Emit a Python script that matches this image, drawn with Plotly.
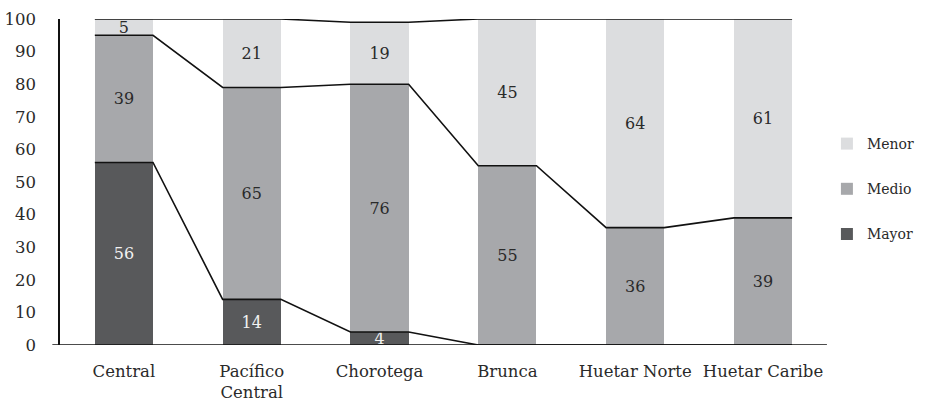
import plotly.graph_objects as go

# Regiones y distribución porcentual por categoría de tamaño
regiones = ["Central", "Pacífico<br>Central", "Chorotega", "Brunca", "Huetar Norte", "Huetar Caribe"]
mayor = [56, 14, 4, 0, 0, 0]
medio = [39, 65, 76, 55, 36, 39]
menor = [5, 21, 19, 45, 64, 61]
y_ticks = [0, 10, 20, 30, 40, 50, 60, 70, 80, 90, 100]

FONT = "DejaVu Serif"
TXT = "#2a2a2a"
BAR_W = 0.455
x_pos = list(range(len(regiones)))

# (name, values, bar colour, label colour, legend rank)
series = [
    ("Mayor", mayor, "#58595b", "#f2f2f2", 3),
    ("Medio", medio, "#a7a8ab", TXT, 2),
    ("Menor", menor, "#dcdddf", TXT, 1),
]

fig = go.Figure()
for name, vals, color, tcolor, rank in series:
    fig.add_trace(go.Bar(
        x=x_pos, y=vals, name=name, width=BAR_W,
        marker=dict(color=color, line=dict(width=0)),
        text=[str(v) if v else "" for v in vals],
        textposition="inside", insidetextanchor="middle", textangle=0,
        textfont=dict(family=FONT, size=16, color=tcolor),
        legendgroup=name, legendrank=rank, hoverinfo="skip",
    ))

# Series lines joining the top of each stacked segment across the bars
cum = []
run = [0] * len(regiones)
for _, vals, _, _, _ in series:
    run = [a + b for a, b in zip(run, vals)]
    cum.append(list(run))

for level in cum:
    lx, ly = [], []
    for i, v in zip(x_pos, level):
        lx += [i - BAR_W / 2, i + BAR_W / 2]
        ly += [v, v]
    fig.add_trace(go.Scatter(
        x=lx, y=ly, mode="lines", line=dict(color="#111111", width=1.6),
        showlegend=False, hoverinfo="skip",
    ))

fig.update_layout(
    width=926, height=403,
    margin=dict(l=60, r=87, t=19, b=58),
    barmode="stack",
    plot_bgcolor="white", paper_bgcolor="white",
    font=dict(family=FONT, size=15, color=TXT),
    uniformtext=dict(mode="show", minsize=15),
    legend=dict(
        x=0.893, xref="container", y=0.531, yref="container",
        xanchor="left", yanchor="middle",
        traceorder="grouped", tracegroupgap=24,
        font=dict(family=FONT, size=14, color=TXT),
        bgcolor="rgba(0,0,0,0)",
    ),
    xaxis=dict(
        range=[-0.5, len(regiones) - 0.5],
        tickvals=x_pos, ticktext=regiones,
        showgrid=False, zeroline=False, showline=False,
        ticks="", ticklabelstandoff=14, automargin=False,
        tickfont=dict(family=FONT, size=16.5, color=TXT),
    ),
    yaxis=dict(
        range=[0, 100], tickvals=y_ticks,
        showgrid=False, zeroline=False,
        showline=True, linecolor="#111111", linewidth=1.6,
        ticks="", ticklabelstandoff=19, automargin=False,
        tickfont=dict(family=FONT, size=16.5, color=TXT),
    ),
)

# Category axis baseline, extending slightly left of the value axis
fig.add_shape(type="line", xref="paper", yref="y", x0=-0.01, x1=1.0, y0=0, y1=0,
              line=dict(color="#111111", width=1.6), layer="above")

fig.write_html("out.html")
